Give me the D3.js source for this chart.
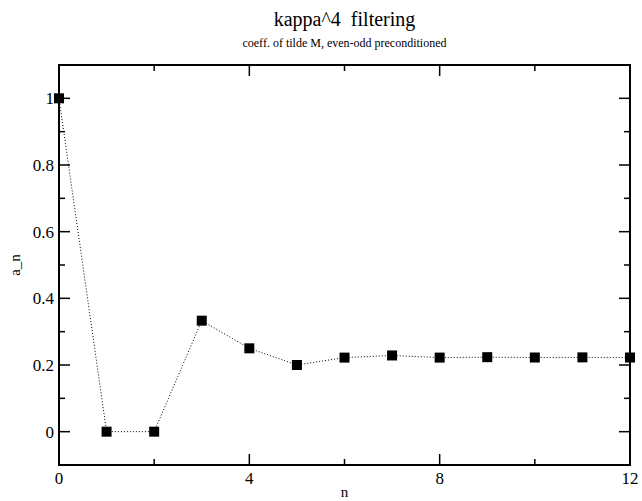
<!DOCTYPE html>
<html>
<head>
<meta charset="utf-8">
<script src="https://cdn.jsdelivr.net/npm/d3@7"></script>
<style>
    body { margin: 0; background: #fff; }
</style>
</head>
<body>
<svg id="svg" width="642" height="501"></svg>
<script>
// series
const nValues = [0, 1, 2, 3, 4, 5, 6, 7, 8, 9, 10, 11, 12];
const aValues = [1, 0, 0, 0.333, 0.25, 0.2, 0.2222, 0.2286, 0.2222, 0.2235, 0.2225, 0.2229, 0.2225];
const xTicks = [0, 4, 8, 12];
const yTicks = [0, 0.2, 0.4, 0.6, 0.8, 1];

const title = "kappa^4  filtering";
const subtitle = "coeff. of tilde M, even-odd preconditioned";

const plotLeft = 59, plotRight = 630, plotTop = 65, plotBottom = 465;
const serif = "'Liberation Serif', 'Times New Roman', Times, 'DejaVu Serif', serif";

const svg = d3.select("#svg");

const x = d3.scaleLinear().domain([0, 12]).range([plotLeft, plotRight]);
const y = d3.scaleLinear().domain([-0.1, 1.1]).range([plotBottom, plotTop]);

// ticks, inward, on all four sides
const xMinor = d3.range(0, 12.01, 2).filter(v => !xTicks.includes(v));
const yMinor = d3.range(-0.1, 1.11, 0.1).map(v => +v.toFixed(2)).filter(v => !yTicks.includes(v) && v > -0.1 && v < 1.1);

function tickLines(g, vals, len) {
    // bottom / top
    g.selectAll(null).data(vals.x).enter().append("line")
        .attr("x1", d => x(d)).attr("x2", d => x(d))
        .attr("y1", plotBottom).attr("y2", plotBottom - len);
    g.selectAll(null).data(vals.x).enter().append("line")
        .attr("x1", d => x(d)).attr("x2", d => x(d))
        .attr("y1", plotTop).attr("y2", plotTop + len);
    // left / right
    g.selectAll(null).data(vals.y).enter().append("line")
        .attr("y1", d => y(d)).attr("y2", d => y(d))
        .attr("x1", plotLeft).attr("x2", plotLeft + len);
    g.selectAll(null).data(vals.y).enter().append("line")
        .attr("y1", d => y(d)).attr("y2", d => y(d))
        .attr("x1", plotRight).attr("x2", plotRight - len);
}

const ticks = svg.append("g").style("stroke", "#000").style("stroke-width", 1.5);
tickLines(ticks, { x: xTicks, y: yTicks }, 11);
tickLines(ticks, { x: xMinor, y: yMinor }, 6);

svg.append("rect")
    .attr("x", plotLeft).attr("y", plotTop)
    .attr("width", plotRight - plotLeft).attr("height", plotBottom - plotTop)
    .style("fill", "none").style("stroke", "#000").style("stroke-width", 2);

const label = (sel, size) => sel.style("font-family", serif).style("font-size", size)
    .style("white-space", "pre").attr("fill", "#000");

// tick labels
svg.append("g").selectAll("text").data(xTicks).enter().append("text")
    .attr("x", d => x(d)).attr("y", plotBottom + 19)
    .attr("text-anchor", "middle")
    .call(label, "17px")
    .text(d => d);

svg.append("g").selectAll("text").data(yTicks).enter().append("text")
    .attr("x", plotLeft - 5).attr("y", d => y(d) + 6)
    .attr("text-anchor", "end")
    .call(label, "17px")
    .text(d => d);

// axis labels
svg.append("text").attr("x", (plotLeft + plotRight) / 2).attr("y", 497)
    .attr("text-anchor", "middle").call(label, "15px").text("n");
svg.append("text")
    .attr("transform", `translate(20,${(plotTop + plotBottom) / 2}) rotate(-90)`)
    .attr("text-anchor", "middle").call(label, "15px").text("a_n");

// titles
svg.append("text").attr("x", (plotLeft + plotRight) / 2).attr("y", 26)
    .attr("text-anchor", "middle").call(label, "20px").text(title);
svg.append("text").attr("x", (plotLeft + plotRight) / 2).attr("y", 47)
    .attr("text-anchor", "middle").call(label, "12px").text(subtitle);

// series
const pts = nValues.map((n, i) => [n, aValues[i]]);

svg.append("path")
    .datum(pts)
    .attr("d", d3.line().x(d => x(d[0])).y(d => y(d[1])))
    .style("fill", "none")
    .style("stroke", "#000")
    .style("stroke-width", 1)
    .style("stroke-dasharray", "1, 2");

svg.append("g").selectAll("rect").data(pts).enter().append("rect")
    .attr("x", d => x(d[0]) - 5)
    .attr("y", d => y(d[1]) - 5)
    .attr("width", 10).attr("height", 10)
    .style("fill", "#000");
</script>
</body>
</html>
